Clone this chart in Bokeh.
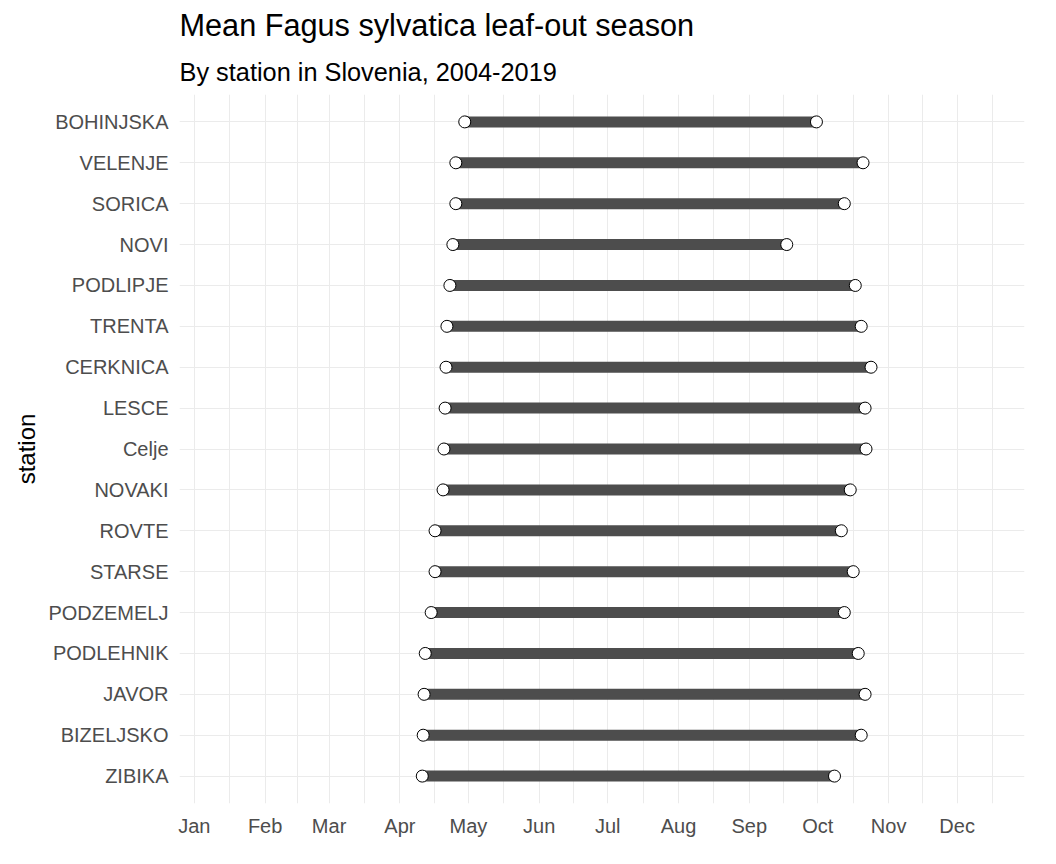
from bokeh.models import ColumnDataSource, FixedTicker, Range1d, Title
from bokeh.plotting import figure
from bokeh.embed import file_html
from bokeh.resources import INLINE

stations = ["BOHINJSKA", "VELENJE", "SORICA", "NOVI", "PODLIPJE", "TRENTA", "CERKNICA",
            "LESCE", "Celje", "NOVAKI", "ROVTE", "STARSE", "PODZEMELJ", "PODLEHNIK",
            "JAVOR", "BIZELJSKO", "ZIBIKA"]
leaf_out = [119.4, 115.5, 115.5, 114.2, 112.9, 111.6, 111.2, 110.8, 110.3, 109.9,
            106.4, 106.4, 104.7, 102.1, 101.6, 101.2, 100.8]
leaf_fall = [273.4, 293.8, 285.6, 260.4, 290.4, 293.0, 297.3, 294.7, 295.1, 288.2,
             284.3, 289.5, 285.6, 291.7, 294.7, 293.0, 281.3]
month_labels = ["Jan", "Feb", "Mar", "Apr", "May", "Jun", "Jul", "Aug", "Sep", "Oct", "Nov", "Dec"]
month_starts = [1, 32, 60, 91, 121, 152, 182, 213, 244, 274, 305, 335]

src = ColumnDataSource({"station": stations, "start": leaf_out, "end": leaf_fall})

p = figure(width=1040, height=848, y_range=list(reversed(stations)),
           x_range=Range1d(-5.5, 364.5), output_backend="svg", toolbar_location=None,
           outline_line_color=None, min_border_top=10, min_border_right=16,
           min_border_bottom=45, min_border_left=179)

p.title.text = "Mean Fagus sylvatica leaf-out season"
p.title.text_font = "Liberation Sans"
p.title.text_font_size = "23pt"
p.title.text_font_style = "normal"
p.title.text_color = "black"
p.add_layout(Title(text="By station in Slovenia, 2004-2019", text_font="Liberation Sans",
                   text_font_size="19pt", text_font_style="normal", text_color="black",
                   standoff=18), "above")

p.segment("start", "station", "end", "station", source=src, line_width=11, line_color="#4d4d4d")
p.scatter("start", "station", source=src, size=12, fill_color="white", line_color="black")
p.scatter("end", "station", source=src, size=12, fill_color="white", line_color="black")

mids = [(month_starts[i] + (month_starts[i + 1] if i < 11 else 366)) / 2 for i in range(12)]
p.xaxis.ticker = FixedTicker(ticks=month_starts, minor_ticks=mids)
p.xaxis.major_label_overrides = {m: l for m, l in zip(month_starts, month_labels)}
p.xgrid.minor_grid_line_color = "#ebebeb"
p.grid.grid_line_color = "#ebebeb"
for ax in p.axis:
    ax.axis_line_color = None
    ax.major_tick_line_color = None
    ax.minor_tick_line_color = None
    ax.major_label_text_font = "Liberation Sans"
    ax.major_label_text_font_size = "15pt"
    ax.major_label_text_color = "#4d4d4d"
p.yaxis.axis_label = "station"
p.yaxis.axis_label_text_font = "Liberation Sans"
p.yaxis.axis_label_text_font_size = "18pt"
p.yaxis.axis_label_text_font_style = "normal"
p.yaxis.axis_label_text_color = "black"
p.y_range.range_padding = 0.02

open("out.html", "w").write(file_html(p, INLINE))
